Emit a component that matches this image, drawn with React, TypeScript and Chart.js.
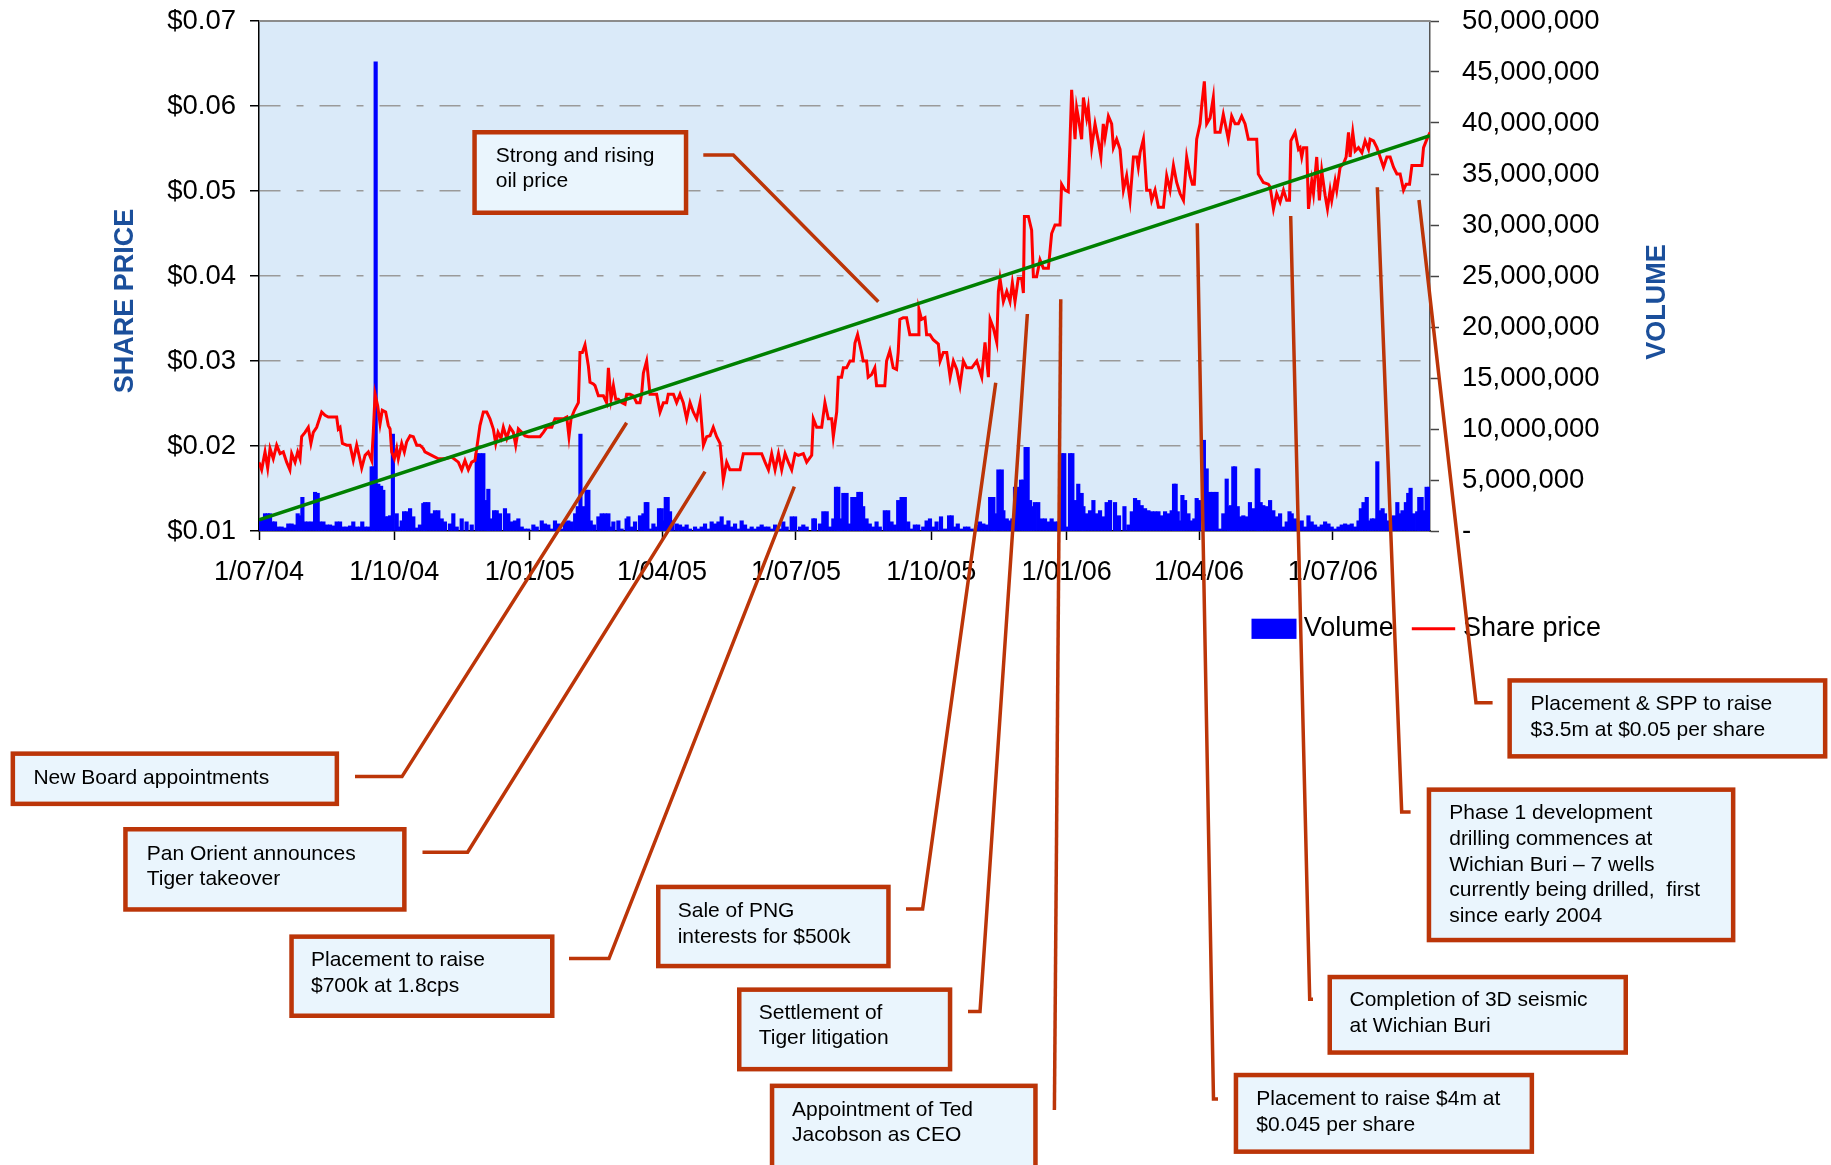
import React, { useEffect, useRef } from "react";
import { Chart, registerables } from "chart.js";

Chart.register(...registerables);

const FONT = "'Liberation Sans', Arial, Helvetica, sans-serif";

// x values: days since 1 July 2004
const xTickDays = [0, 92, 184, 274, 365, 457, 549, 639, 730];
const xTickLabels = ["1/07/04", "1/10/04", "1/01/05", "1/04/05", "1/07/05", "1/10/05", "1/01/06", "1/04/06", "1/07/06"];
const xLastDay = 796;

// [day, share price $]
const sharePrice: [number, number][] = [
  [0, 0.0181], [1.8, 0.0172], [4.1, 0.0193], [5.9, 0.0174], [7.5, 0.0197], [9.7, 0.0185], [12, 0.0201], [14.3, 0.0191],
  [16.5, 0.0193], [18.8, 0.0181], [21, 0.0172], [22.2, 0.0191], [24.5, 0.0181], [26.3, 0.0193], [27.9, 0.0185], [29, 0.0211],
  [31.3, 0.0216], [33.5, 0.0222], [35.3, 0.0203], [36.9, 0.0216], [39.2, 0.0222], [42.6, 0.024], [44.9, 0.0236], [47.1, 0.0234],
  [50.5, 0.0234], [52.8, 0.0234], [53.9, 0.022], [55.1, 0.0222], [56.7, 0.0203], [59.6, 0.0201], [61.9, 0.0201], [64.1, 0.0183],
  [66.4, 0.0201], [68, 0.0189], [69.8, 0.0174], [72.1, 0.0189], [74.3, 0.0193], [76.6, 0.0183], [77.7, 0.0216], [78.9, 0.0261],
  [80.7, 0.0247], [82.3, 0.0226], [83.8, 0.0242], [86.1, 0.024], [87.9, 0.0224], [89.1, 0.022], [90.2, 0.0193], [92, 0.0185],
  [93.6, 0.0197], [94.7, 0.0185], [97, 0.0203], [98.8, 0.0193], [100.4, 0.0205], [102.7, 0.0212], [104.9, 0.0211], [107.2, 0.0201],
  [109.4, 0.0201], [111.7, 0.0197],
  [112.8, 0.0193], [117.4, 0.0189], [121.9, 0.0185], [126.4, 0.0185], [131, 0.0187], [135.5, 0.0181], [137.8, 0.0172], [140, 0.0183],
  [142.3, 0.0172], [144.6, 0.0181], [146.8, 0.0183], [148, 0.0197], [150.2, 0.0224], [152.5, 0.024], [154.8, 0.024], [157, 0.0232],
  [159.3, 0.022], [160.9, 0.0203], [162.5, 0.0216], [164.5, 0.0209], [166.1, 0.0222], [168.4, 0.0209], [170.6, 0.0222], [172.9, 0.0216],
  [174.5, 0.0201], [176.3, 0.022], [178.6, 0.0216], [180.8, 0.0212], [183.1, 0.0211], [185.4, 0.0211], [188.8, 0.0211], [191, 0.0211],
  [193.3, 0.0216], [195.6, 0.0222], [199, 0.0222], [201.2, 0.0232], [203.5, 0.0232], [206.9, 0.0232], [209.2, 0.0234], [210.7, 0.0211],
  [212.1, 0.0232], [214.4, 0.0242], [217.1, 0.0251], [218.2, 0.031], [219.8, 0.031], [221.6, 0.0319], [223.9, 0.0294], [225, 0.0275],
  [227.3, 0.0273],
  [228.4, 0.0271], [230.7, 0.0259], [234.1, 0.0259], [236.3, 0.0251], [237.5, 0.0292], [239.3, 0.0255], [240.9, 0.0271], [242.5, 0.0255],
  [244.3, 0.0255], [246.5, 0.0251], [248.8, 0.0249], [249.9, 0.0261], [252.2, 0.0261], [254.5, 0.0259], [256.7, 0.0251], [259, 0.0251],
  [260.1, 0.0261], [261.3, 0.0286], [263.5, 0.03], [265.8, 0.0261], [268.1, 0.0261], [270.3, 0.0261], [272.6, 0.024], [274.9, 0.0251],
  [277.1, 0.0251], [278.2, 0.0261], [281.7, 0.0261], [283.9, 0.0251], [286.2, 0.0261], [288.4, 0.0251], [290.7, 0.0232], [293, 0.0251],
  [295.2, 0.024], [297.5, 0.0232], [299.8, 0.0251], [302.1, 0.0201], [304.3, 0.0211], [306.6, 0.0212], [308.8, 0.0222], [311.1, 0.0211],
  [313.4, 0.0203], [314.5, 0.0183], [315.6, 0.016], [317.9, 0.0181], [320.1, 0.0172], [323.6, 0.0172], [327, 0.0172], [329.2, 0.0191],
  [331.5, 0.0191], [334.9, 0.0191], [339.4, 0.0191], [341.7, 0.0191],
  [344, 0.0181], [346.3, 0.0172], [348.5, 0.0191], [350.8, 0.0172], [353.1, 0.0191], [355.3, 0.0172], [357.6, 0.0191], [359.8, 0.0181],
  [362.1, 0.0172], [364.4, 0.0191], [366.6, 0.0189], [370, 0.0191], [372.3, 0.0181], [375.7, 0.0189], [376.8, 0.0232], [379.1, 0.0222],
  [382.5, 0.0222], [384.7, 0.0251], [387, 0.0232], [389.3, 0.0232], [390.4, 0.0211], [392.7, 0.024], [393.8, 0.0281], [396, 0.0281],
  [397.2, 0.0292], [399.4, 0.0292], [401.7, 0.03], [404, 0.03], [405.1, 0.0321], [406.9, 0.0331], [409.6, 0.031], [410.7, 0.03],
  [413, 0.03], [414.1, 0.0281], [416.4, 0.0284], [418.6, 0.0292], [419.8, 0.0271], [423.2, 0.0271], [425.4, 0.0271], [426.6, 0.03],
  [428.8, 0.0312], [431.1, 0.0292], [433.4, 0.029], [434.5, 0.031], [435.6, 0.0349], [437.9, 0.0351], [440.2, 0.0351], [442.4, 0.0331],
  [444.7, 0.0331], [448.1, 0.0331], [448.6, 0.0361], [450.4, 0.0349], [452.7, 0.0351], [453.8, 0.0331], [456.1, 0.0331], [458.3, 0.0325],
  [461.8, 0.032], [463, 0.03], [465.2, 0.031], [467.5, 0.031], [469.8, 0.0281], [472, 0.03], [474.3, 0.029], [476.5, 0.0271],
  [478.8, 0.03], [481.1, 0.0292], [484.5, 0.0292], [487.9, 0.03], [491.3, 0.0281], [493.5, 0.0322], [495.8, 0.0281], [497, 0.0349],
  [499.2, 0.0339], [501.5, 0.0322], [502.6, 0.0382], [503.7, 0.0397], [506, 0.037], [508.3, 0.0382], [510.5, 0.037], [512.1, 0.0392],
  [513.9, 0.037], [516.1, 0.0397], [518.4, 0.0397], [519.6, 0.038], [520.3, 0.047], [523, 0.047], [525.2, 0.0454], [526.4, 0.0399],
  [528.6, 0.0399], [530.9, 0.0419], [533.2, 0.0409], [536.6, 0.0409], [538.8, 0.045], [541.1, 0.046], [544.5, 0.046], [545.6, 0.0508],
  [547.9, 0.0501], [550.1, 0.0499], [551.3, 0.0559], [552.4, 0.0619], [554.7, 0.0561], [555.8, 0.0598], [557, 0.0586], [559.2, 0.0561],
  [560.4, 0.061], [562.6, 0.0586], [563.7, 0.0598], [566, 0.0551], [568.3, 0.0579], [570.5, 0.0559], [572.3, 0.054], [573.9, 0.0579],
  [575.1, 0.0563], [577.4, 0.0588], [579.6, 0.0579], [580.8, 0.0551], [583, 0.0561], [585.3, 0.0549], [587.6, 0.0501], [589.8, 0.0518],
  [592.1, 0.0489], [594.4, 0.054], [596.6, 0.054], [597.7, 0.0528], [598.9, 0.0545], [601.2, 0.0561], [603.4, 0.0501], [605.7, 0.0501],
  [606.8, 0.0489], [609.1, 0.0501], [611.4, 0.0481], [614.8, 0.0481], [617, 0.0518], [619.3, 0.0501], [621.6, 0.053], [623.8, 0.051],
  [626.1, 0.0497], [628.4, 0.0489], [630.6, 0.054], [632.9, 0.0518], [634.5, 0.0508], [635.8, 0.0508], [637.4, 0.0561], [639.7, 0.0579],
  [640.8, 0.06], [642.6, 0.0629], [644.2, 0.0579], [646.5, 0.0586], [648.7, 0.061], [649.9, 0.0569], [653.3, 0.0569], [655.5, 0.059],
  [658.9, 0.0561], [661.2, 0.0588], [663.5, 0.0579], [665.7, 0.0579], [668, 0.0588], [670.3, 0.0579], [672.5, 0.0561], [678.2, 0.0561],
  [679.3, 0.052], [682.7, 0.051], [686.1, 0.0508],
  [687.3, 0.0505], [689.6, 0.0479], [691.8, 0.0497], [694.1, 0.0487], [696.4, 0.0501], [698.6, 0.0489], [700.5, 0.0489], [701.4, 0.0559],
  [704.3, 0.0569], [706.6, 0.0549], [707.7, 0.0551], [708.8, 0.054], [710, 0.0551], [712.2, 0.0551], [713.4, 0.0479], [715.6, 0.0512],
  [716.8, 0.0497], [719, 0.054], [720.8, 0.0489], [722.4, 0.0524], [724.7, 0.0495], [726.3, 0.0479], [728.1, 0.0501], [729.2, 0.0489],
  [731.5, 0.0512], [732.6, 0.0501], [734.9, 0.0528], [737.2, 0.0532], [739, 0.054], [740.6, 0.0569], [741.7, 0.054], [743.5, 0.0569],
  [745.1, 0.0547], [747.4, 0.0551], [749.7, 0.0545], [751.9, 0.0559], [754.2, 0.0549], [755.3, 0.0561], [757.6, 0.0559], [759.9, 0.0551],
  [762.1, 0.054], [764.4, 0.0528], [766.7, 0.054], [768.9, 0.054], [771.2, 0.0528], [773.5, 0.052], [775.7, 0.052], [778, 0.0501],
  [779.8, 0.0508], [782.1, 0.0508], [783.7, 0.053], [787.1, 0.053], [790.5, 0.053], [791.6, 0.0551], [793.9, 0.0561], [796, 0.0569],
];

// [day, volume in millions of shares]
const volumeMillions: [number, number][] = [
  [0.7, 1.2], [2.3, 1.2], [4.1, 1.7], [5.9, 1.7], [7.5, 1.7], [9.1, 0.9], [10.9, 0.9], [13.1, 0.4], [15.4, 0.4], [17.7, 0.3],
  [19.9, 0.7], [22.2, 0.7], [24.5, 0.6], [26.3, 1.7], [27.9, 1.5], [29.5, 3.3], [31.3, 0.9], [33.5, 0.9], [35.8, 0.9], [38.1, 3.8],
  [39.9, 3.7], [41.5, 0.9], [43.8, 0.9], [46, 0.6], [48.3, 0.6], [50.5, 0.5], [52.8, 0.9], [55.1, 0.9], [57.3, 0.4], [59.6, 0.4],
  [61.9, 0.5], [64.1, 0.9], [66.4, 0.4], [68.7, 0.4], [70.2, 0.9], [72.1, 0.4], [74.3, 0.4], [76.6, 6.3], [77.7, 6.3], [79.3, 46],
  [81.1, 4.6], [83, 4.4], [84.5, 4.0], [86.1, 1.4], [87.5, 1.4], [89.1, 1.5], [91, 9.5], [93.6, 1.7], [95.2, 0.4], [97, 1.0],
  [98.6, 1.9], [100.4, 1.9], [102.7, 2.2], [104.9, 1.4], [107.2, 0.3], [109.4, 0.6], [111.7, 2.7],
  [112.8, 2.8], [115.1, 2.8], [117.4, 1.7], [119.6, 2.0], [121.9, 2.0], [124.2, 1.2], [126.4, 0.9], [129.8, 0.7], [132.1, 1.7], [134.4, 0.4],
  [137.8, 1.2], [141.1, 0.9], [144.6, 0.6], [148, 7.6], [150.2, 7.6], [152.5, 7.6], [154.8, 3.0], [155.9, 4.1], [157.5, 1.2], [159.8, 2.0],
  [161.6, 2.0], [163.8, 1.7], [167.2, 2.2], [169.5, 1.7], [171.8, 0.9], [174, 1.0], [176.3, 1.2], [178.6, 0.4], [180.8, 0.2], [183.1, 0.2],
  [186.5, 0.6], [188.8, 0.4], [192.2, 1.0], [194.4, 0.7], [196.7, 0.6], [199, 0.2], [201.2, 1.0], [203.5, 0.7], [205.8, 0.2], [208, 0.9],
  [210.3, 1.0], [212.6, 0.9], [214.9, 1.7], [216.7, 2.4], [218.5, 9.5], [220.5, 2.4], [222.7, 4.0], [223.9, 4.0], [225.5, 1.0], [227.7, 0.6],
  [230.7, 1.4], [232.9, 1.7], [235.2, 1.7], [237.5, 1.7], [238.6, 0.4], [240.9, 0.9], [244.3, 1.0], [246.5, 0.2], [249.9, 1.2], [251.1, 1.4],
  [253.3, 0.4], [255.6, 0.9], [259, 1.5], [261.3, 1.7], [262.9, 2.8], [264, 2.8], [265.8, 0.2], [268.1, 0.7], [270.3, 0.4], [271.9, 2.2],
  [273.8, 2.2], [274.9, 1.0], [276.5, 3.3], [277.8, 3.3], [279.4, 1.9], [281, 1.0], [283.9, 0.7], [286.2, 0.6], [288.4, 0.4], [290.7, 0.6],
  [293, 0.2], [296.4, 0.4], [298.7, 0.2], [300.9, 0.4], [303.2, 0.7], [305.5, 0.2], [307.7, 0.9], [310, 0.7], [312.3, 0.9], [314.5, 1.4],
  [316.8, 0.6], [319.1, 1.0], [321.3, 0.4], [323.6, 0.7], [325.9, 0.2], [328.1, 1.0], [330.4, 0.6], [332.7, 0.2], [334.9, 0.4], [337.2, 0.2],
  [339.4, 0.4], [341.7, 0.6],
  [344, 0.4], [346.3, 0.4], [348.5, 0.2], [350.8, 0.6], [354.2, 0.2], [356.4, 0.9], [358.7, 0.4], [362.1, 1.4], [364.4, 1.4], [367.8, 0.4],
  [370, 0.6], [372.3, 0.4], [376.8, 1.2], [377.9, 1.2], [381.3, 0.7], [383.6, 1.9], [385.9, 1.9], [388.1, 0.4], [390.4, 1.2], [392.2, 4.3],
  [393.8, 4.3], [395, 1.2], [397.2, 3.7], [399.4, 3.7], [401, 0.7], [403.3, 3.3], [405.1, 3.3], [407.4, 3.8], [409.2, 3.8], [410.7, 2.4],
  [413, 1.2], [415.2, 0.7], [417.5, 0.4], [419.8, 0.9], [422, 0.4], [425.4, 2.0], [427.7, 2.0], [430, 0.9], [432.2, 0.6], [434.5, 3.0],
  [436.8, 3.3], [439, 3.3], [441.3, 0.9], [443.6, 0.2], [445.8, 0.6], [448.1, 0.6], [451.5, 0.4], [453.8, 1.0], [456.1, 1.2], [458.3, 0.4],
  [460.6, 0.9], [463.6, 1.4], [466.4, 0.2], [469.1, 1.5], [470.9, 1.5], [473.2, 0.4], [475, 0.7], [477.3, 0.2], [479.9, 0.4], [482.2, 0.4],
  [484.5, 0.2], [487.9, 0.6], [490.1, 0.9], [492.4, 0.7], [494.6, 0.6], [497, 3.3], [499.2, 3.3], [500.3, 1.7], [502.6, 6.0], [504.9, 6.0],
  [506, 2.0], [508.3, 1.2], [509.8, 1.0], [512.1, 1.2], [513.9, 4.3], [516.1, 4.3], [518, 5.0], [519.6, 5.0], [521.1, 8.2], [522.5, 8.2],
  [524.1, 3.0], [525.7, 2.4], [527.4, 2.8], [529.7, 2.8], [532, 1.2], [534.3, 1.2], [536.6, 0.9], [538.8, 1.2], [541.1, 0.9], [543.3, 0.9],
  [545.6, 7.6], [547.4, 7.6], [549, 0.4], [551.3, 7.6], [552.9, 7.6], [554.7, 3.0], [556.9, 4.6], [559.2, 3.7], [560.4, 2.4], [562.6, 1.7],
  [564.9, 2.0], [567.2, 3.0], [569.4, 1.7], [571.7, 2.0], [573.9, 1.4], [576.2, 2.8],
  [578.5, 3.0], [581.9, 2.8], [584.6, 1.5], [588.3, 2.4], [591, 0.6], [593.3, 1.9], [595.5, 3.2], [597.8, 3.0], [600, 2.5], [602.3, 2.2],
  [604.6, 2.0], [606.8, 1.9], [609.1, 1.9], [611.4, 1.9], [613.6, 1.5], [615.9, 1.9], [618.2, 1.7], [620.4, 2.0], [622, 4.6], [623.1, 4.6],
  [624.5, 1.9], [626.1, 1.0], [627.7, 3.5], [629.5, 3.0], [631.8, 1.7], [634, 1.0], [635.8, 1.2], [637.4, 3.2], [639, 3.0], [642.3, 8.9],
  [644.2, 6.1], [646.5, 3.8], [648.7, 3.8], [650.9, 3.8], [653.3, 0.2], [655.5, 1.7], [657.8, 5.1], [659.4, 2.4], [660.7, 2.5], [662.3, 6.3],
  [663.5, 6.3], [665.3, 2.4], [666.9, 1.4], [669.1, 1.5], [671.4, 1.4], [673.6, 2.8], [675.9, 2.2], [678.2, 6.1], [679.3, 6.1], [680.9, 2.8],
  [682.7, 2.5], [685, 2.4], [687.3, 3.0], [689.5, 2.0], [691.8, 1.4], [694.1, 1.7],
  [696.4, 0.4], [698.6, 0.9], [700.5, 1.9], [702, 1.7], [704.3, 1.2], [706.6, 0.9], [708.8, 1.0], [711.1, 0.4], [713.4, 1.5], [715.6, 0.9],
  [717.9, 0.6], [720.2, 0.4], [722.4, 0.6], [724.7, 0.9], [727, 0.7], [729.2, 0.4], [731.5, 0.2], [733.8, 0.4], [736, 0.6], [738.3, 0.7],
  [740.6, 0.6], [742.8, 0.7], [745.1, 0.4], [747.4, 1.0], [749, 2.2], [750.8, 2.8], [753, 3.3], [754.8, 1.0], [756.4, 1.2], [758, 1.2],
  [760.2, 6.8], [762, 2.0], [763.8, 2.2], [765.4, 1.7], [767.7, 1.0], [769.9, 1.0], [771.5, 1.5], [773.8, 2.8], [775.5, 1.7], [777.3, 2.0],
  [779.6, 2.8], [781.2, 3.7], [782.8, 4.2], [785, 1.7], [787.3, 1.9], [788.7, 3.3], [790.3, 3.3], [791.9, 2.0], [793.7, 4.3], [795.5, 4.3],
];

// linear trend of share price: [day, price]
const trendLine: [number, number][] = [[0, 0.0113], [796, 0.0565]];

const legendLabels = ["Volume", "Share price"];
const axisTitles = ["SHARE PRICE", "VOLUME"];

// Call-out boxes: layout in page pixels, target in chart values [day, price]
type Note = { lines: string[]; box: number[]; textX: number; lineY: number[]; stub: number[][]; target: [number, number] };
const notes: Note[] = [
  { lines: ["Strong and rising", "oil price"], box: [472.3, 130, 688.3, 215], textX: 495.7, lineY: [156.7, 181.2], stub: [[703.3, 155], [733.3, 155]], target: [421.0, 0.03698] },
  { lines: ["New Board appointments"], box: [10.6, 751.4, 339.1, 806.1], textX: 33.4, lineY: [778], stub: [[355, 776.6], [402, 776.6]], target: [249.9, 0.02274] },
  { lines: ["Pan Orient announces", "Tiger takeover"], box: [123.2, 827, 406.6, 911.7], textX: 146.7, lineY: [854, 879.5], stub: [[422.5, 852.3], [467.6, 852.3]], target: [303.2, 0.01698] },
  { lines: ["Placement to raise", "$700k at 1.8cps"], box: [289.3, 934.4, 554.5, 1018], textX: 311, lineY: [960.4, 986.1], stub: [[569, 958.6], [609, 958.6]], target: [363.9, 0.01521] },
  { lines: ["Sale of PNG", "interests for $500k"], box: [656, 884.7, 890.7, 968.3], textX: 677.7, lineY: [910.8, 936.9], stub: [[906, 909], [922.6, 909]], target: [500.8, 0.02745] },
  { lines: ["Settlement of", "Tiger litigation"], box: [737, 987.4, 952.3, 1071.4], textX: 758.7, lineY: [1013.2, 1038.7], stub: [[968, 1011.5], [980, 1011.5]], target: [522.3, 0.03553] },
  { lines: ["Appointment of Ted", "Jacobson as CEO"], box: [769.8, 1083.6, 1037.7, 1172], textX: 792.1, lineY: [1109.9, 1135.1], stub: [[1054.4, 1110]], target: [545.0, 0.03726] },
  { lines: ["Placement to raise $4m at", "$0.045 per share"], box: [1233.7, 1072.8, 1534.1, 1153.9], textX: 1256.3, lineY: [1099.1, 1125], stub: [[1218, 1099], [1213.5, 1099]], target: [637.8, 0.0462] },
  { lines: ["Completion of 3D seismic", "at Wichian Buri"], box: [1327.5, 974.8, 1628, 1054.8], textX: 1349.5, lineY: [1000, 1026], stub: [[1313, 999.3], [1309.7, 999.3]], target: [701.3, 0.04706] },
  { lines: ["Phase 1 development", "drilling commences at", "Wichian Buri \u2013 7 wells", "currently being drilled,  first", "since early 2004"], box: [1426.7, 787.4, 1735.4, 942.3], textX: 1449.2, lineY: [813.3, 839.3, 865.2, 890.5, 916], stub: [[1410.6, 811.9], [1401.7, 811.9]], target: [760.2, 0.05044] },
  { lines: ["Placement & SPP to raise", "$3.5m at $0.05 per share"], box: [1507.4, 678.2, 1827.4, 758.6], textX: 1530.6, lineY: [704.5, 730.3], stub: [[1492.6, 702.7], [1476, 702.7]], target: [788.5, 0.04894] },
];

const W = 1831;
const H = 1165;
const LEADER = "#BC3508";
const BOX_FILL = "#EAF5FD";
const TITLE_BLUE = "#1B4F9B";

const decor = {
  id: "decor",
  beforeDraw(chart: any) {
    const { ctx, chartArea: a } = chart;
    ctx.save();
    ctx.fillStyle = "#ffffff";
    ctx.fillRect(0, 0, chart.width, chart.height);
    ctx.fillStyle = "#DAEAF9";
    ctx.fillRect(a.left, a.top, a.right - a.left, a.bottom - a.top);
    ctx.restore();
  },
  afterDraw(chart: any) {
    const { ctx, chartArea: a, scales } = chart;
    ctx.save();
    // top border of plot
    ctx.strokeStyle = "#8c8c8c";
    ctx.lineWidth = 2;
    ctx.beginPath();
    ctx.moveTo(a.left, a.top);
    ctx.lineTo(a.right, a.top);
    ctx.stroke();

    // axis titles
    ctx.fillStyle = TITLE_BLUE;
    ctx.font = `bold 27px ${FONT}`;
    ctx.textAlign = "center";
    ctx.textBaseline = "middle";
    ctx.save();
    ctx.translate(125.5, 301);
    ctx.rotate(-Math.PI / 2);
    ctx.fillText(axisTitles[0], 0, 0);
    ctx.restore();
    ctx.save();
    ctx.translate(1657.5, 302);
    ctx.rotate(-Math.PI / 2);
    ctx.fillText(axisTitles[1], 0, 0);
    ctx.restore();

    // legend
    ctx.fillStyle = "#0000FF";
    ctx.fillRect(1251.5, 618.7, 45, 20.2);
    ctx.fillStyle = "#000";
    ctx.font = `27px ${FONT}`;
    ctx.textAlign = "left";
    ctx.textBaseline = "middle";
    ctx.fillText(legendLabels[0], 1303.7, 629);
    ctx.strokeStyle = "#FF0000";
    ctx.lineWidth = 3;
    ctx.beginPath();
    ctx.moveTo(1411.8, 628.8);
    ctx.lineTo(1455.2, 628.8);
    ctx.stroke();
    ctx.fillText(legendLabels[1], 1462.9, 629);

    // call-outs
    for (const n of notes) {
      const [x0, y0, x1, y1] = n.box;
      ctx.fillStyle = BOX_FILL;
      ctx.fillRect(x0, y0, x1 - x0, y1 - y0);
      ctx.strokeStyle = LEADER;
      ctx.lineWidth = 4.5;
      ctx.strokeRect(x0 + 2.25, y0 + 2.25, x1 - x0 - 4.5, y1 - y0 - 4.5);
      ctx.fillStyle = "#000";
      ctx.font = `21px ${FONT}`;
      ctx.textAlign = "left";
      ctx.textBaseline = "middle";
      n.lines.forEach((t, i) => ctx.fillText(t, n.textX, n.lineY[i]));
      const tx = scales.x.getPixelForValue(n.target[0]);
      const ty = scales.y.getPixelForValue(n.target[1]);
      ctx.strokeStyle = LEADER;
      ctx.lineWidth = 3.5;
      ctx.lineJoin = "miter";
      ctx.beginPath();
      ctx.moveTo(n.stub[0][0], n.stub[0][1]);
      for (let i = 1; i < n.stub.length; i++) ctx.lineTo(n.stub[i][0], n.stub[i][1]);
      ctx.lineTo(tx, ty);
      ctx.stroke();
    }
    ctx.restore();
  },
};

const noPad = (s: any) => {
  s.paddingTop = 0;
  s.paddingBottom = 0;
  s.paddingLeft = 0;
  s.paddingRight = 0;
};

export default function App() {
  const ref = useRef<HTMLCanvasElement | null>(null);

  useEffect(() => {
    if (!ref.current) return;
    const isEdge = (v: number) => Math.abs(v - 0.01) < 1e-6 || Math.abs(v - 0.07) < 1e-6;
    const chart = new Chart(ref.current, {
      type: "line",
      data: {
        datasets: [
          {
            type: "line",
            label: "Trend",
            data: trendLine.map(([d, v]) => ({ x: d, y: v })),
            yAxisID: "y",
            borderColor: "#008000",
            borderWidth: 3.5,
            pointRadius: 0,
            order: 0,
          },
          {
            type: "line",
            label: legendLabels[1],
            data: sharePrice.map(([d, v]) => ({ x: d, y: v })),
            yAxisID: "y",
            borderColor: "#FF0000",
            borderWidth: 3,
            pointRadius: 0,
            tension: 0,
            order: 1,
          },
          {
            type: "bar",
            label: legendLabels[0],
            data: volumeMillions.map(([d, v]) => ({ x: d, y: v })),
            yAxisID: "y1",
            backgroundColor: "#0000FF",
            borderWidth: 0,
            barThickness: 3.5,
            grouped: false,
            order: 2,
          } as any,
        ],
      },
      options: {
        responsive: false,
        animation: false,
        devicePixelRatio: 1,
        events: [],
        layout: { padding: { top: 21, left: 0, right: 0, bottom: 0 } },
        plugins: { legend: { display: false }, tooltip: { enabled: false } },
        scales: {
          x: {
            type: "linear",
            position: "bottom",
            min: 0,
            max: xLastDay,
            offset: false,
            afterFit: (s: any) => {
              s.height = 634;
              noPad(s);
            },
            afterBuildTicks: (s: any) => {
              s.ticks = xTickDays.map((v) => ({ value: v }));
            },
            ticks: {
              autoSkip: false,
              maxRotation: 0,
              minRotation: 0,
              padding: 16,
              color: "#000",
              font: { family: FONT, size: 27 },
              callback: (_v: any, i: number) => xTickLabels[i],
            },
            grid: { drawOnChartArea: false, drawTicks: true, tickLength: 9, tickColor: "#000", tickWidth: 1.5, offset: false },
            border: { display: true, color: "#000", width: 1.5 },
          },
          y: {
            type: "linear",
            position: "left",
            min: 0.01,
            max: 0.07,
            afterFit: (s: any) => {
              s.width = 259;
              noPad(s);
            },
            ticks: {
              stepSize: 0.01,
              padding: 14,
              color: "#000",
              font: { family: FONT, size: 27.5 },
              callback: (v: any) => "$" + Number(v).toFixed(2),
            },
            grid: {
              color: (c: any) => (c.tick && isEdge(c.tick.value) ? "rgba(0,0,0,0)" : "#9a9a9a"),
              lineWidth: 1.5,
              tickLength: 9,
              tickColor: "#000",
              tickWidth: 1.5,
            },
            border: { display: true, color: "#000", width: 1.5, dash: [21, 16, 7, 16] },
          },
          y1: {
            type: "linear",
            position: "right",
            min: 0,
            max: 50,
            afterFit: (s: any) => {
              s.width = W - 1430;
              noPad(s);
            },
            ticks: {
              stepSize: 5,
              padding: 23,
              color: "#000",
              font: { family: FONT, size: 27.5 },
              callback: (v: any) => (Number(v) === 0 ? "-" : (Number(v) * 1000000).toLocaleString("en-US")),
            },
            grid: { drawOnChartArea: false, tickLength: 9, tickColor: "#444", tickWidth: 1.5 },
            border: { display: true, color: "#555", width: 1.5 },
          },
        },
      } as any,
      plugins: [decor],
    });
    return () => chart.destroy();
  }, []);

  return (
    <div style={{ position: "fixed", left: 0, top: 0, width: W, height: H, background: "#fff" }}>
      <canvas ref={ref} width={W} height={H} style={{ display: "block", width: W, height: H }} />
    </div>
  );
}
